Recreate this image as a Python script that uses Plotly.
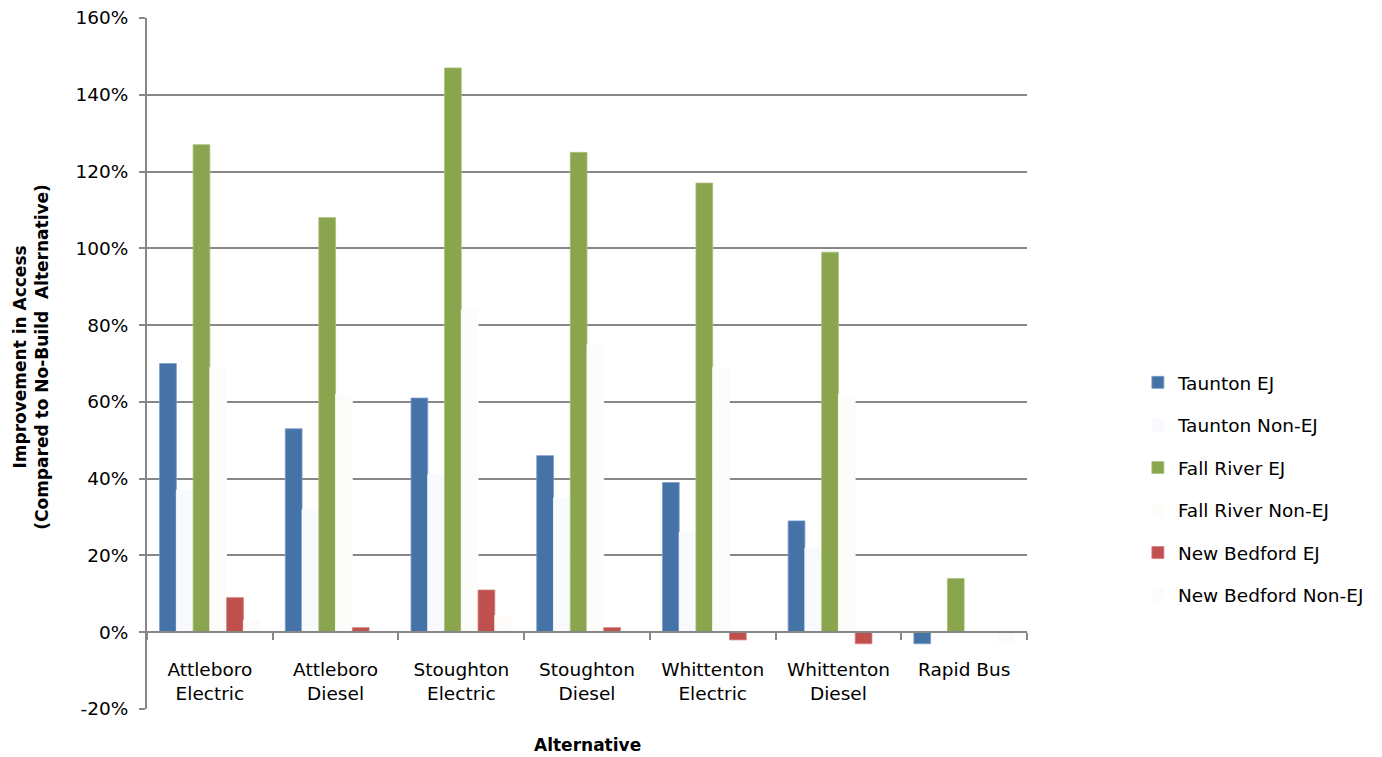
import plotly.graph_objects as go

categories = ["Attleboro<br>Electric", "Attleboro<br>Diesel", "Stoughton<br>Electric",
              "Stoughton<br>Diesel", "Whittenton<br>Electric", "Whittenton<br>Diesel", "Rapid Bus"]

taunton_ej = [70, 53, 61, 46, 39, 29, -3]
taunton_nonej = [37, 32, 41, 35, 26, 22, 0]
fall_river_ej = [127, 108, 147, 125, 117, 99, 14]
fall_river_nonej = [69, 62, 84, 75, 69, 62, 0]
new_bedford_ej = [9, 1.2, 11, 1.2, -2, -3, 0]
new_bedford_nonej = [3, 0.3, 4.4, 0.3, 0.2, 0.2, -2.8]

y_tick_vals = [-20, 0, 20, 40, 60, 80, 100, 120, 140, 160]
y_tick_text = ["-20%", "0%", "20%", "40%", "60%", "80%", "100%", "120%", "140%", "160%"]
grid_vals = [20, 40, 60, 80, 100, 120, 140, 160]

series = [
    ("Taunton EJ", taunton_ej, "#4572A7", "#7C9CC8"),
    ("Taunton Non-EJ", taunton_nonej, "#F8FAFD", "#F8FAFD"),
    ("Fall River EJ", fall_river_ej, "#89A54E", "#A9C07A"),
    ("Fall River Non-EJ", fall_river_nonej, "#FCFCFA", "#FCFCFA"),
    ("New Bedford EJ", new_bedford_ej, "#C0504D", "#D27D7B"),
    ("New Bedford Non-EJ", new_bedford_nonej, "#FCFBF9", "#FCFBF9"),
]

FONT = "DejaVu Sans"
GRID = "#878787"

fig = go.Figure()
for i, (name, vals, col, lcol) in enumerate(series):
    fig.add_trace(go.Bar(
        name=name, x=categories, y=vals,
        marker=dict(color=col, line=dict(color=lcol, width=0.8)),
        legendgroup=f"g{i}",
    ))

# invisible trace on overlay axis to carry gridlines
fig.add_trace(go.Scatter(x=[categories[0]], y=[0], yaxis="y2", mode="markers",
                         marker=dict(opacity=0), showlegend=False, hoverinfo="skip"))

fig.update_layout(
    width=1382, height=757,
    margin=dict(l=147, r=355, t=18, b=48, autoexpand=False),
    paper_bgcolor="white", plot_bgcolor="rgba(0,0,0,0)",
    barmode="group", bargap=0.2, bargroupgap=0,
    font=dict(family=FONT, size=18, color="black"),
    xaxis=dict(
        anchor="free", position=20 / 180, automargin=False,
        showline=True, linecolor=GRID, linewidth=2,
        ticks="outside", tickson="boundaries", ticklen=7, tickcolor=GRID, tickwidth=2,
        ticklabelstandoff=21,
        tickfont=dict(family=FONT, size=18.5, color="black"),
        showgrid=False,
    ),
    yaxis=dict(
        range=[-20, 160], tickvals=y_tick_vals, ticktext=y_tick_text, automargin=False,
        showline=True, linecolor=GRID, linewidth=2,
        ticks="outside", ticklen=6, tickcolor=GRID, tickwidth=2,
        ticklabelstandoff=7,
        tickfont=dict(family=FONT, size=18.5, color="black"),
        showgrid=False, zeroline=False,
    ),
    yaxis2=dict(
        overlaying="y", range=[-20, 160], automargin=False,
        tickvals=grid_vals,
        showgrid=True, gridcolor=GRID, gridwidth=2,
        showticklabels=False, ticks="", zeroline=False, showline=False,
    ),
    legend=dict(
        x=1.126, xanchor="left", y=0.4995, yanchor="top",
        font=dict(family=FONT, size=18.5, color="black"),
        tracegroupgap=15.5, bgcolor="rgba(0,0,0,0)",
    ),
    annotations=[
        dict(text="<b>Improvement in Access<br>(Compared to No-Build  Alternative)</b>",
             xref="paper", yref="paper", x=-115.5 / 880, y=0.509,
             xanchor="center", yanchor="middle", textangle=-90, showarrow=False,
             font=dict(family=FONT, size=17, color="black")),
        dict(text="<b>Alternative</b>", xref="paper", yref="paper",
             x=0.5, y=-36 / 691, xanchor="center", yanchor="middle", showarrow=False,
             font=dict(family=FONT, size=17, color="black")),
    ],
)

fig.write_html("out.html")
